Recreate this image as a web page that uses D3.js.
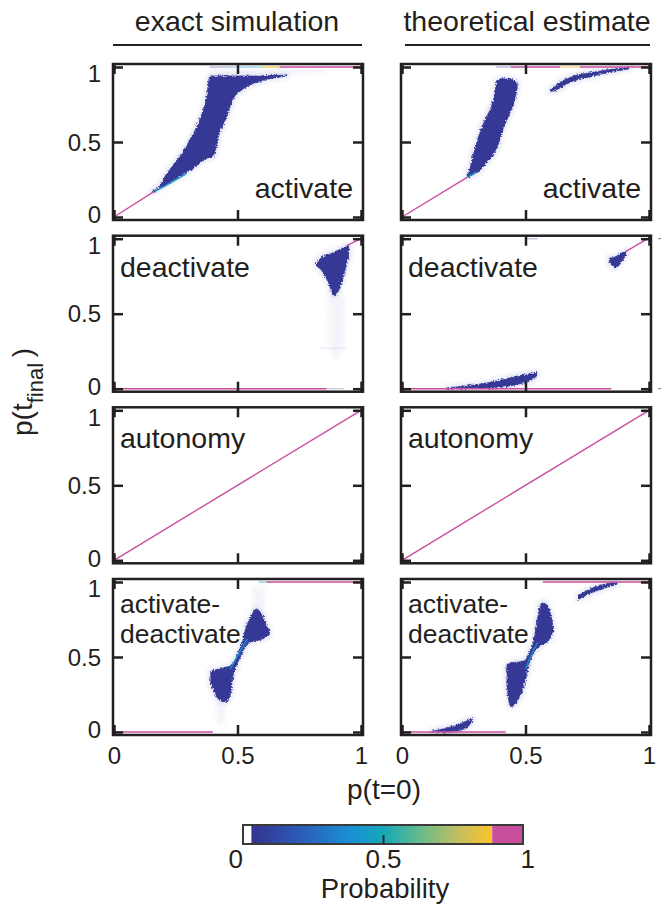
<!DOCTYPE html>
<html><head><meta charset="utf-8">
<script src="https://cdn.jsdelivr.net/npm/d3@7"></script>
<style>
body{margin:0;background:#fff;}
svg{display:block;font-family:"Liberation Sans",Arial,Helvetica,sans-serif;}
text{fill:#231f20;}
</style></head><body>
<svg id="fig" width="662" height="911"></svg>
<script>
// ---- labels & ticks ----
const columnTitles = ["exact simulation", "theoretical estimate"];
const rowNames = [["activate"], ["deactivate"], ["autonomy"], ["activate-", "deactivate"]];
const axisTicks = [0, 0.5, 1];
const colorbarTicks = [0, 0.5, 1];

// ---- colour map (probability -> colour) ----
const cmapStops = [
  [0.03, "#35328f"], [0.2, "#2c5ab6"], [0.38, "#1a8fd5"], [0.5, "#13a8b8"],
  [0.64, "#6cbc8a"], [0.77, "#c3be5f"], [0.89, "#fcc32a"]
];
const topColor = "#c94f9e";
const lowCut = 0.03, highCut = 0.89;
const blobLevel = 0.05;

// ---- density bands: [p(t=0), lower p(t_final), upper p(t_final)] ----
const exactActivateBlob = [
  [0.155,0.162,0.172],[0.185,0.19,0.205],[0.214,0.215,0.29],[0.246,0.25,0.36],
  [0.266,0.27,0.40],[0.306,0.31,0.51],[0.347,0.36,0.65],[0.375,0.39,0.80],
  [0.387,0.395,0.935],[0.399,0.40,0.94],[0.427,0.56,0.94],[0.456,0.67,0.94],
  [0.48,0.78,0.94],[0.52,0.85,0.94],[0.589,0.905,0.94],[0.657,0.93,0.945],[0.70,0.94,0.945]
];
const exactActivateHaze = [[0.39,0.952,0.985],[0.6,0.95,0.985],[0.85,0.958,0.985]];
const exactActivateRidge = [[0.165,0.172],[0.22,0.22],[0.294,0.29]];
const exactActivateSegs = [
  [0,0,0.16,0.167,1,1],[0.387,1,0.48,1,0.06,0.35],[0.48,1,0.6,1,0.45,0.45],
  [0.6,1,0.67,1,0.85,0.8],[0.67,1,1,1,1,1]
];

const theoryActivateBlobA = [
  [0.262,0.26,0.267],[0.274,0.27,0.313],[0.286,0.282,0.40],[0.3,0.295,0.48],
  [0.315,0.31,0.56],[0.34,0.36,0.66],[0.363,0.40,0.74],[0.37,0.42,0.78],
  [0.387,0.47,0.912],[0.403,0.56,0.922],[0.43,0.67,0.92],[0.456,0.78,0.91],[0.466,0.86,0.895]
];
const theoryActivateBlobB = [
  [0.6,0.835,0.85],[0.62,0.845,0.875],[0.677,0.895,0.93],[0.758,0.935,0.96],
  [0.839,0.965,0.982],[0.919,0.988,0.998]
];
const theoryActivateRidge = [[0.265,0.265],[0.3,0.3]];
const theoryActivateSegs = [
  [0,0,0.262,0.262,1,1],[0.38,1,0.44,1,0.06,0.35],[0.44,1,0.64,1,1,1],
  [0.64,1,0.72,1,0.85,0.6],[0.72,1,1,1,1,1]
];

const exactDeactivateBlob = [
  [0.82,0.82,0.84],[0.845,0.78,0.88],[0.87,0.70,0.895],[0.89,0.62,0.91],
  [0.91,0.66,0.925],[0.93,0.76,0.94],[0.95,0.88,0.952]
];
const exactDeactivateHaze = [[0.87,0.3,0.65],[0.9,0.2,0.6],[0.93,0.3,0.65]];
const exactDeactivateSegs = [
  [0,0,0.86,0,1,1],[0.86,0,0.93,0,0.06,0.25],[0.83,0.27,0.94,0.27,0.06,0.1],[0.944,0.955,1,1,1,1]
];

const theoryDeactivateBlobA = [
  [0.18,0,0.006],[0.27,0,0.02],[0.35,0.003,0.04],[0.41,0.012,0.062],
  [0.47,0.03,0.085],[0.52,0.055,0.1],[0.545,0.085,0.11]
];
const theoryDeactivateBlobB = [[0.84,0.845,0.87],[0.865,0.805,0.88],[0.885,0.84,0.9],[0.905,0.885,0.915]];
const theoryDeactivateSegs = [
  [0,0,0.847,0,1,1],[0.907,0.915,1,1.005,1,1],[0.5,1,0.55,1,0.06,0.3]
];

const autonomySegs = [[0,0,1,1,1,1]];

const exactBothBlob = [
  [0.392,0.33,0.40],[0.41,0.25,0.415],[0.43,0.21,0.42],[0.45,0.2,0.43],[0.47,0.24,0.44],
  [0.48,0.36,0.45],[0.50,0.46,0.52],[0.52,0.53,0.6],[0.535,0.58,0.7],[0.555,0.6,0.77],
  [0.575,0.61,0.82],[0.6,0.62,0.78],[0.62,0.64,0.70],[0.63,0.66,0.68]
];
const exactBothHazeLow = [[0.415,0.05,0.25],[0.45,0.05,0.25]];
const exactBothHazeHigh = [[0.56,0.8,0.97],[0.61,0.8,0.97]];
const exactBothRidge = [[0.47,0.42],[0.505,0.52],[0.54,0.62]];
const exactBothSegs = [[0,0,0.4,0,1,1],[0.585,1,0.617,1,0.5,0.5],[0.617,1,1,1,1,1]];

const theoryBothBlobA = [[0.12,0,0.005],[0.18,0,0.025],[0.23,0.01,0.05],[0.27,0.04,0.08],[0.285,0.07,0.09]];
const theoryBothBlobB = [
  [0.425,0.3,0.45],[0.44,0.17,0.46],[0.46,0.19,0.465],[0.48,0.25,0.47],[0.5,0.35,0.48],
  [0.515,0.46,0.53],[0.53,0.52,0.58],[0.548,0.56,0.75],[0.565,0.58,0.86],[0.585,0.6,0.85],
  [0.605,0.64,0.76],[0.612,0.67,0.7]
];
const theoryBothBlobC = [[0.715,0.885,0.91],[0.77,0.93,0.96],[0.82,0.96,0.985],[0.87,0.985,0.998]];
const theoryBothRidge = [[0.5,0.42],[0.525,0.52],[0.55,0.6]];
const theoryBothSegs = [[0,0,0.42,0,1,1],[0.57,1,1,1,1,1]];

const panels = [
  {row:0,col:0,blobs:[exactActivateBlob],haze:[exactActivateHaze],ridges:[exactActivateRidge],segs:exactActivateSegs},
  {row:0,col:1,blobs:[theoryActivateBlobA,theoryActivateBlobB],haze:[],ridges:[theoryActivateRidge],segs:theoryActivateSegs},
  {row:1,col:0,blobs:[exactDeactivateBlob],haze:[exactDeactivateHaze],ridges:[],segs:exactDeactivateSegs},
  {row:1,col:1,blobs:[theoryDeactivateBlobA,theoryDeactivateBlobB],haze:[],ridges:[],segs:theoryDeactivateSegs,outside:[0,1]},
  {row:2,col:0,blobs:[],haze:[],ridges:[],segs:autonomySegs},
  {row:2,col:1,blobs:[],haze:[],ridges:[],segs:autonomySegs},
  {row:3,col:0,blobs:[exactBothBlob],haze:[exactBothHazeLow,exactBothHazeHigh],ridges:[exactBothRidge],segs:exactBothSegs},
  {row:3,col:1,blobs:[theoryBothBlobA,theoryBothBlobB,theoryBothBlobC],haze:[],ridges:[theoryBothRidge],segs:theoryBothSegs}
];

// ---- layout ----
const ink = "#231f20";
const colLeft = [113, 401];
const rowTop = [64, 235.7, 407.3, 579];
const frameW = 250, frameH = 156;

const gradScale = d3.scaleLinear()
  .domain(cmapStops.map(d => d[0]))
  .range(cmapStops.map(d => d[1]))
  .interpolate(d3.interpolateRgb).clamp(true);
function probColor(p) {
  if (p < lowCut) return "#ffffff";
  if (p > highCut) return topColor;
  return gradScale(p);
}

const svg = d3.select("#fig");
const defs = svg.append("defs");
function addFilter(id, freq, scale, blur) {
  const f = defs.append("filter").attr("id", id).attr("x","-30%").attr("y","-30%").attr("width","160%").attr("height","160%");
  f.append("feTurbulence").attr("type","fractalNoise").attr("baseFrequency", freq).attr("numOctaves",2).attr("seed",3).attr("result","noise");
  f.append("feDisplacementMap").attr("in","SourceGraphic").attr("in2","noise").attr("scale", scale)
    .attr("xChannelSelector","R").attr("yChannelSelector","G").attr("result","moved");
  f.append("feGaussianBlur").attr("in","moved").attr("stdDeviation", blur);
}
addFilter("grain", 0.55, 4, 0.7);
addFilter("haze", 0.5, 6, 2.2);
defs.append("filter").attr("id","soft").append("feGaussianBlur").attr("stdDeviation",0.6);

svg.append("rect").attr("width",662).attr("height",911).attr("fill","#fff");

// column titles with rules beneath
columnTitles.forEach((t, i) => {
  const cx = colLeft[i] + frameW / 2;
  svg.append("text").attr("x", cx + (i ? 1 : -1)).attr("y", 31).attr("text-anchor","middle")
    .style("font-size","28.5px").text(t);
  svg.append("line").attr("x1", colLeft[i] + (i ? 4 : 0)).attr("x2", colLeft[i] + frameW - 1)
    .attr("y1",45).attr("y2",45).attr("stroke",ink).attr("stroke-width",2.2);
});

panels.forEach((P, idx) => {
  const fx = colLeft[P.col], fy = rowTop[P.row];
  const x = d3.scaleLinear().domain([0,1]).range([fx + 1, fx + 248]);
  const y = d3.scaleLinear().domain([0,1]).range([fy + frameH - 3, fy + 3]);
  const g = svg.append("g");
  const clipId = "clip" + idx;
  defs.append("clipPath").attr("id", clipId).append("rect")
    .attr("x", fx).attr("y", fy).attr("width", frameW).attr("height", frameH);
  const plot = g.append("g").attr("clip-path", `url(#${clipId})`);

  const area = d3.area().x(d => x(d[0])).y0(d => y(d[1])).y1(d => y(d[2])).curve(d3.curveMonotoneX);
  const line = d3.line().x(d => x(d[0])).y(d => y(d[1])).curve(d3.curveMonotoneX);

  // faint sparse tails
  P.haze.forEach(h => {
    plot.append("path").attr("d", area(h)).attr("fill", probColor(0.06))
      .attr("opacity", 0.05).attr("filter","url(#haze)");
  });
  // halo around dense regions
  P.blobs.forEach(b => {
    plot.append("path").attr("d", area(b)).attr("fill","none").attr("stroke","#9a9ad2")
      .attr("stroke-width",5).attr("opacity",0.28).attr("filter","url(#haze)");
  });
  // dense regions
  P.blobs.forEach(b => {
    plot.append("path").attr("d", area(b)).attr("fill", probColor(blobLevel))
      .attr("stroke", probColor(blobLevel)).attr("stroke-width",0.8).attr("filter","url(#grain)");
  });
  // higher-density ridges
  P.ridges.forEach(r => {
    plot.append("path").attr("d", line(r)).attr("fill","none").attr("stroke", probColor(0.42))
      .attr("stroke-width",1.6).attr("opacity",0.85).attr("filter","url(#soft)");
  });
  // deterministic / near-deterministic segments
  P.segs.forEach(s => {
    plot.append("line").attr("x1", x(s[0])).attr("y1", y(s[1])).attr("x2", x(s[2])).attr("y2", y(s[3]))
      .attr("stroke", probColor(s[4])).attr("stroke-width",1.4).attr("opacity", s[5]);
  });

  // frame
  g.append("rect").attr("x", fx).attr("y", fy).attr("width", frameW).attr("height", frameH)
    .attr("fill","none").attr("stroke", ink).attr("stroke-width",2.5);

  // inward ticks on all four sides
  const isBottom = P.row === 3;
  const axes = [
    [d3.axisLeft(y), `translate(${fx},0)`, P.col === 0],
    [d3.axisRight(y), `translate(${fx + frameW},0)`, false],
    [d3.axisTop(x), `translate(0,${fy})`, false],
    [d3.axisBottom(x), `translate(0,${fy + frameH})`, isBottom]
  ];
  axes.forEach(([ax, tr, labelled], k) => {
    ax.tickValues(axisTicks).tickSizeInner(-10).tickSizeOuter(0)
      .tickPadding(k === 0 ? 12 : 12.3)
      .tickFormat(labelled ? d3.format("") : () => "");
    const a = g.append("g").attr("transform", tr).call(ax);
    a.select(".domain").remove();
    a.selectAll(".tick line").attr("stroke", ink).attr("stroke-width",2.5);
    a.selectAll(".tick text").attr("fill", ink)
      .style("font-family",'"Liberation Sans",Arial,Helvetica,sans-serif').style("font-size","24px");
    if (k === 0 && labelled) {
      a.selectAll(".tick text").attr("dy", d => d === 1 ? "0.62em" : d === 0 ? "0.24em" : "0.34em");
    }
  });

  // small stray marks just outside the right edge
  if (P.outside) {
    P.outside.forEach(v => {
      g.append("line").attr("x1", fx + frameW + 7).attr("x2", fx + frameW + 10)
        .attr("y1", y(v)).attr("y2", y(v)).attr("stroke","#777").attr("stroke-width",1);
    });
  }

  // panel name
  const names = rowNames[P.row];
  if (P.row === 0) {
    g.append("text").attr("x", fx + frameW - 10).attr("y", fy + 134).attr("text-anchor","end")
      .style("font-size","28.5px").text(names[0]);
  } else {
    const two = names.length > 1;
    const base = two ? fy + 34 : fy + 41;
    names.forEach((n, j) => {
      g.append("text").attr("x", fx + 7).attr("y", base + j * 30)
        .style("font-size", two ? "26.5px" : "28.5px").text(n);
    });
  }
});

// axis titles
svg.append("text").attr("x", 384).attr("y", 799).attr("text-anchor","middle")
  .style("font-size","28px").text("p(t=0)");
const yl = svg.append("text").attr("transform","translate(32,392) rotate(-90)")
  .attr("text-anchor","middle").style("font-size","28px");
yl.append("tspan").text("p(t");
yl.append("tspan").attr("dy", 11).style("font-size","22px").text("final");
yl.append("tspan").attr("dy", -11).text("\u2009)");

// colour bar
const cbx = d3.scaleLinear().domain([0,1]).range([243, 523]);
const cbY = 825, cbH = 19;
const grad = defs.append("linearGradient").attr("id","cbgrad").attr("x1","0%").attr("x2","100%");
cmapStops.forEach(s => {
  grad.append("stop").attr("offset", ((s[0] - lowCut) / (highCut - lowCut) * 100) + "%").attr("stop-color", s[1]);
});
svg.append("rect").attr("x", cbx(0)).attr("y", cbY).attr("width", cbx(lowCut) - cbx(0)).attr("height", cbH).attr("fill","#fff");
svg.append("rect").attr("x", cbx(lowCut)).attr("y", cbY).attr("width", cbx(highCut) - cbx(lowCut)).attr("height", cbH).attr("fill","url(#cbgrad)");
svg.append("rect").attr("x", cbx(highCut)).attr("y", cbY).attr("width", cbx(1) - cbx(highCut)).attr("height", cbH).attr("fill", topColor);
svg.append("rect").attr("x", cbx(0)).attr("y", cbY).attr("width", cbx(1) - cbx(0)).attr("height", cbH)
  .attr("fill","none").attr("stroke","#3a3a3a").attr("stroke-width",2);
const cbAxis = svg.append("g").attr("transform", `translate(0,${cbY + cbH})`)
  .call(d3.axisBottom(cbx).tickValues(colorbarTicks).tickSizeInner(-9).tickSizeOuter(0).tickPadding(6).tickFormat(d3.format("")));
cbAxis.select(".domain").remove();
cbAxis.selectAll(".tick line").attr("stroke", d => (d === 0.5 ? "#2a2a2a" : "none")).attr("stroke-width",2);
cbAxis.selectAll(".tick text").attr("fill", ink)
  .style("font-family",'"Liberation Sans",Arial,Helvetica,sans-serif').style("font-size","26px")
  .attr("text-anchor", d => d === 0 ? "end" : d === 1 ? "start" : "middle")
  .attr("dx", d => d === 0 ? "-0.5" : d === 1 ? "-3" : "0");
svg.append("text").attr("x", 385).attr("y", 898).attr("text-anchor","middle")
  .style("font-size","27.5px").text("Probability");
</script></body></html>
